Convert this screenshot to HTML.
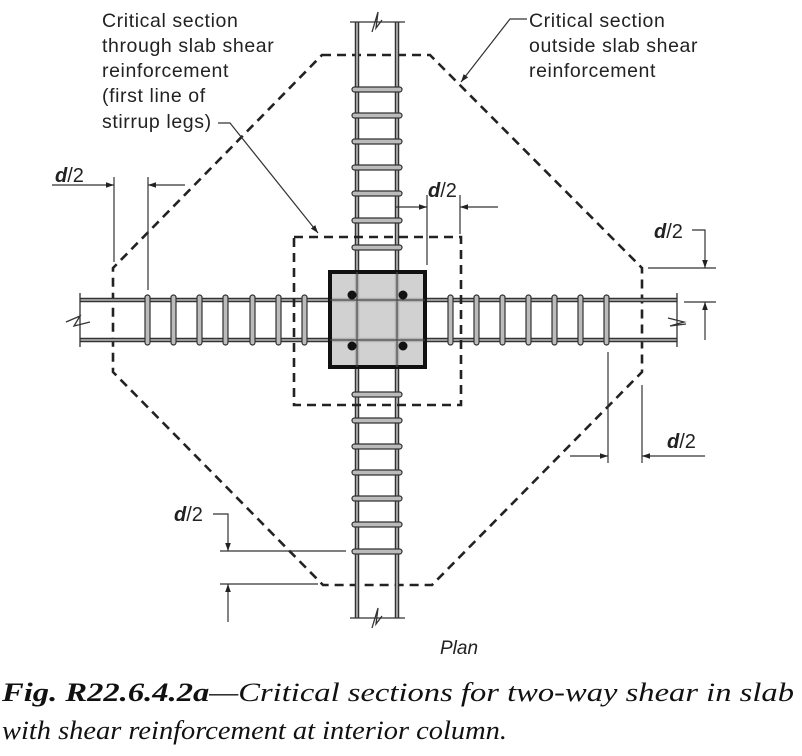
<!DOCTYPE html>
<html><head><meta charset="utf-8"><style>
html,body{margin:0;padding:0;background:#fff;}
svg{display:block;}
.t{font-family:"Liberation Sans",sans-serif;font-size:19.5px;letter-spacing:0.6px;fill:#222;}
.d{font-family:"Liberation Sans",sans-serif;font-size:20px;fill:#222;}
.cap{font-family:"Liberation Serif","DejaVu Serif",serif;font-style:italic;font-size:26px;fill:#111;}
</style></head><body>
<svg width="802" height="756" viewBox="0 0 802 756" xmlns="http://www.w3.org/2000/svg">
<defs>
<marker id="a" viewBox="0 0 10 10" refX="10" refY="5" markerWidth="8" markerHeight="8" orient="auto-start-reverse" markerUnits="userSpaceOnUse"><path d="M0,1.5 L10,5 L0,8.5 z" fill="#222"/></marker>
</defs>

<polygon points="322,55 430,55 642,268 642,372 432,585 323,585 113,372 113,268" fill="none" stroke="#222" stroke-width="2.6" stroke-dasharray="9,6"/>

<g stroke="#333" stroke-width="4.5"><line x1="80" y1="300" x2="677" y2="300"/><line x1="80" y1="340" x2="677" y2="340"/></g>
<g stroke="#bbb" stroke-width="1.6"><line x1="80" y1="300" x2="677" y2="300"/><line x1="80" y1="340" x2="677" y2="340"/></g>
<g stroke="#333" stroke-width="1.3"><line x1="80" y1="293" x2="80" y2="347"/><line x1="677" y1="293" x2="677" y2="347"/>
<polyline points="66,322 80,316 74,326 90,322" fill="none"/><polyline points="668,318 684,322 670,326 686,324" fill="none"/></g>
<g fill="#bbb" stroke="#333" stroke-width="1.2">
<rect x="145" y="295" width="5" height="50" rx="2.5"/><rect x="171" y="295" width="5" height="50" rx="2.5"/><rect x="197" y="295" width="5" height="50" rx="2.5"/><rect x="223" y="295" width="5" height="50" rx="2.5"/><rect x="250" y="295" width="5" height="50" rx="2.5"/><rect x="276" y="295" width="5" height="50" rx="2.5"/><rect x="302" y="295" width="5" height="50" rx="2.5"/>
<rect x="448" y="295" width="5" height="50" rx="2.5"/><rect x="474" y="295" width="5" height="50" rx="2.5"/><rect x="500" y="295" width="5" height="50" rx="2.5"/><rect x="526" y="295" width="5" height="50" rx="2.5"/><rect x="552" y="295" width="5" height="50" rx="2.5"/><rect x="578" y="295" width="5" height="50" rx="2.5"/><rect x="604" y="295" width="5" height="50" rx="2.5"/>
</g>

<g stroke="#333" stroke-width="4.5"><line x1="357" y1="22" x2="357" y2="618"/><line x1="397" y1="22" x2="397" y2="618"/></g>
<g stroke="#bbb" stroke-width="1.6"><line x1="357" y1="22" x2="357" y2="618"/><line x1="397" y1="22" x2="397" y2="618"/></g>
<g stroke="#333" stroke-width="1.3"><line x1="350" y1="22" x2="405" y2="22"/><line x1="350" y1="618" x2="405" y2="618"/>
<polyline points="372,32 378,12 376,28 382,20" fill="none"/><polyline points="372,628 378,608 376,624 382,616" fill="none"/></g>
<g fill="#bbb" stroke="#333" stroke-width="1.2">
<rect x="352" y="87" width="50" height="5" rx="2.5"/><rect x="352" y="113" width="50" height="5" rx="2.5"/><rect x="352" y="139" width="50" height="5" rx="2.5"/><rect x="352" y="165" width="50" height="5" rx="2.5"/><rect x="352" y="191" width="50" height="5" rx="2.5"/><rect x="352" y="218" width="50" height="5" rx="2.5"/><rect x="352" y="245" width="50" height="5" rx="2.5"/>
<rect x="352" y="392" width="50" height="5" rx="2.5"/><rect x="352" y="418" width="50" height="5" rx="2.5"/><rect x="352" y="444" width="50" height="5" rx="2.5"/><rect x="352" y="470" width="50" height="5" rx="2.5"/><rect x="352" y="496" width="50" height="5" rx="2.5"/><rect x="352" y="522" width="50" height="5" rx="2.5"/><rect x="352" y="549" width="50" height="5" rx="2.5"/>
</g>

<rect x="330" y="272" width="95" height="95" fill="#c9c9c9" fill-opacity="0.85" stroke="#111" stroke-width="4"/>
<g stroke="#444" stroke-width="1.2"><line x1="357" y1="272" x2="357" y2="367"/><line x1="397" y1="272" x2="397" y2="367"/><line x1="330" y1="300" x2="425" y2="300"/><line x1="330" y1="340" x2="425" y2="340"/></g>
<g fill="#111"><circle cx="352" cy="295" r="4.5"/><circle cx="403" cy="295" r="4.5"/><circle cx="352" cy="346" r="4.5"/><circle cx="403" cy="346" r="4.5"/></g>

<rect x="294" y="237" width="167" height="168" fill="none" stroke="#222" stroke-width="2.6" stroke-dasharray="9,6"/>

<g stroke="#333" stroke-width="1.2" fill="none">
<line x1="114" y1="177" x2="114" y2="262"/><line x1="148" y1="177" x2="148" y2="290"/>
<line x1="52" y1="185" x2="114" y2="185" marker-end="url(#a)"/><line x1="185" y1="185" x2="148" y2="185" marker-end="url(#a)"/>
<line x1="427" y1="195" x2="427" y2="265"/><line x1="460" y1="195" x2="460" y2="234"/>
<line x1="395" y1="207" x2="427" y2="207" marker-end="url(#a)"/><line x1="498" y1="207" x2="460" y2="207" marker-end="url(#a)"/>
<line x1="648" y1="268" x2="716" y2="268"/><line x1="684" y1="302" x2="716" y2="302"/>
<polyline points="692,230 705,230 705,268" marker-end="url(#a)"/><line x1="705" y1="340" x2="705" y2="302" marker-end="url(#a)"/>
<line x1="608" y1="352" x2="608" y2="463"/><line x1="642" y1="385" x2="642" y2="463"/>
<line x1="570" y1="456" x2="608" y2="456" marker-end="url(#a)"/><line x1="705" y1="456" x2="642" y2="456" marker-end="url(#a)"/>
<line x1="220" y1="551" x2="346" y2="551"/><line x1="220" y1="584" x2="318" y2="584"/>
<polyline points="213,514 228,514 228,551" marker-end="url(#a)"/><line x1="228" y1="622" x2="228" y2="584" marker-end="url(#a)"/>
<polyline points="218,123 230,123 318,233" marker-end="url(#a)"/>
<polyline points="527,19 510,19 461,82" marker-end="url(#a)"/>
</g>

<g class="t">
<text x="102" y="27">Critical section</text>
<text x="102" y="52">through slab shear</text>
<text x="102" y="77">reinforcement</text>
<text x="102" y="102">(first line of</text>
<text x="102" y="128">stirrup legs)</text>
<text x="529" y="27">Critical section</text>
<text x="529" y="52">outside slab shear</text>
<text x="529" y="77">reinforcement</text>
</g>
<text x="440" y="654" font-family="Liberation Sans, sans-serif" font-size="19" font-style="italic" fill="#222">Plan</text>
<g class="d">
<text x="55" y="182"><tspan font-weight="bold" font-style="italic">d</tspan>/2</text>
<text x="428" y="197"><tspan font-weight="bold" font-style="italic">d</tspan>/2</text>
<text x="654" y="238"><tspan font-weight="bold" font-style="italic">d</tspan>/2</text>
<text x="667" y="448"><tspan font-weight="bold" font-style="italic">d</tspan>/2</text>
<text x="174" y="521"><tspan font-weight="bold" font-style="italic">d</tspan>/2</text>
</g>
<text class="cap" x="2" y="701" textLength="792" lengthAdjust="spacingAndGlyphs"><tspan font-weight="bold">Fig. R22.6.4.2a</tspan>—Critical sections for two-way shear in slab</text>
<text class="cap" x="2" y="739" textLength="505" lengthAdjust="spacingAndGlyphs">with shear reinforcement at interior column.</text>
</svg>
</body></html>
